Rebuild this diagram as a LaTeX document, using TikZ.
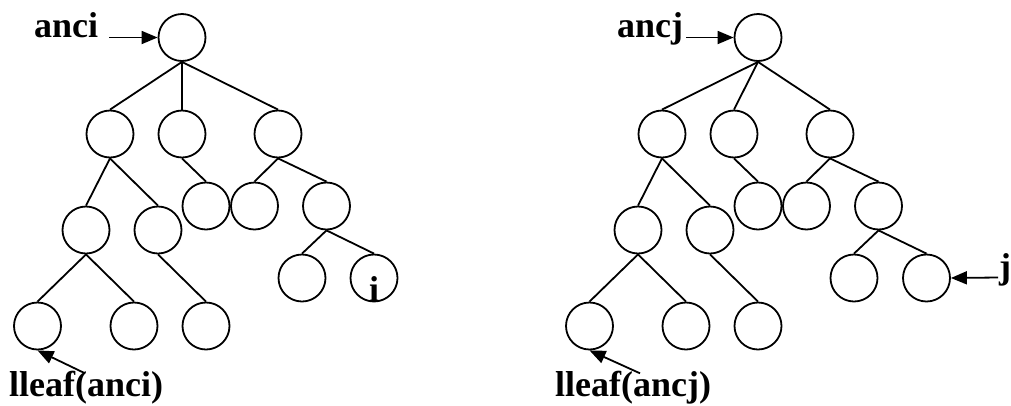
\documentclass[tikz,border=0pt]{standalone}
\usepackage{fontspec}
\setmainfont{Liberation Serif}
\usetikzlibrary{arrows.meta}
\begin{document}
\begin{tikzpicture}[x=1pt,y=-1pt,
  vtx/.style={draw,circle,minimum size=47pt,inner sep=0pt,line width=1.8pt},
  edge/.style={line width=1.8pt},
  ptr/.style={line width=1.8pt,-{Triangle[length=16pt,width=13pt]}},
  lbl/.style={font=\bfseries\fontsize{36}{40}\selectfont,inner sep=0pt,anchor=base west}]
\useasboundingbox (0,0) rectangle (1011,405);

% ---- tree rooted at anci ----
\node[vtx] (r)   at (182,37.5) {};
\node[vtx] (a)   at (110,134) {};
\node[vtx] (b)   at (182,134) {};
\node[vtx] (c)   at (278,134) {};
\node[vtx] (b1)  at (206,206) {};
\node[vtx] (c1)  at (254.5,206) {};
\node[vtx] (c2)  at (326.5,206) {};
\node[vtx] (a1)  at (86,230) {};
\node[vtx] (a2)  at (158,230) {};
\node[vtx] (c21) at (302,278) {};
\node[vtx] (c22) at (374,278) {};
\node[vtx] (a11) at (37.5,326) {};
\node[vtx] (a12) at (134,326) {};
\node[vtx] (a21) at (206,326) {};
\foreach \p/\q in {r/a,r/b,r/c,b/b1,c/c1,c/c2,a/a1,a/a2,a1/a11,a1/a12,a2/a21,c2/c21,c2/c22}
  \draw[edge] (\p.south) -- (\q.north);

\node[lbl,anchor=base] (ilbl) at (374,301.5) {i};

\node[lbl] (anci) at (34,37) {anci};
\coordinate (anciTail) at (109,37.5);
\draw[ptr] (anciTail) -- (r.west);

\node[lbl] (lleafi) at (9,396.5) {lleaf(anci)};
\coordinate (lleafiTail) at (85,373.3);
\draw[ptr] (lleafiTail) -- (a11.south);

% ---- tree rooted at ancj ----
\node[vtx] (R)   at (758,37.5) {};
\node[vtx] (A)   at (662,134) {};
\node[vtx] (B)   at (734,134) {};
\node[vtx] (C)   at (830,134) {};
\node[vtx] (B1)  at (758,206) {};
\node[vtx] (C1)  at (806.5,206) {};
\node[vtx] (C2)  at (878.5,206) {};
\node[vtx] (A1)  at (638,230) {};
\node[vtx] (A2)  at (710,230) {};
\node[vtx] (C21) at (854,278) {};
\node[vtx] (C22) at (926.5,278) {};
\node[vtx] (A11) at (589.5,326) {};
\node[vtx] (A12) at (686,326) {};
\node[vtx] (A21) at (758,326) {};
\foreach \p/\q in {R/A,R/B,R/C,B/B1,C/C1,C/C2,A/A1,A/A2,A1/A11,A1/A12,A2/A21,C2/C21,C2/C22}
  \draw[edge] (\p.south) -- (\q.north);

\node[lbl] (ancj) at (617,37) {ancj};
\coordinate (ancjTail) at (686,37.5);
\draw[ptr] (ancjTail) -- (R.west);

\node[lbl] (jlbl) at (999,278) {j};
\coordinate (jTail) at (998,277.5);
\draw[ptr] (jTail) -- (C22.east);

\node[lbl] (lleafj) at (555,396.5) {lleaf(ancj)};
\coordinate (lleafjTail) at (640,373.3);
\draw[ptr] (lleafjTail) -- (A11.south);
\end{tikzpicture}
\end{document}
